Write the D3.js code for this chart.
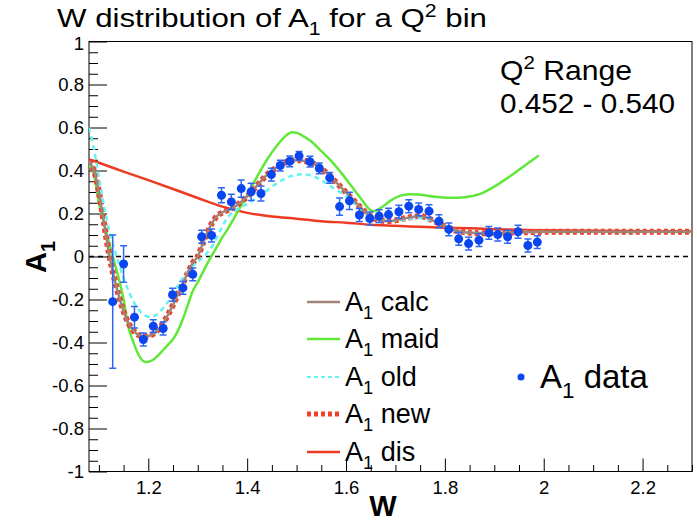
<!DOCTYPE html>
<html><head><meta charset="utf-8">
<script src="https://cdn.jsdelivr.net/npm/d3@7"></script>
<style>body{margin:0;background:#fff}svg{display:block}text{font-family:"Liberation Sans",Arial,sans-serif}</style>
</head><body><svg id="c" width="697" height="522"></svg>
<script>
// ---------- data ----------
const xTickValues = [1.2, 1.4, 1.6, 1.8, 2.0, 2.2];
const xTickLabels = ["1.2", "1.4", "1.6", "1.8", "2", "2.2"];
const yTickValues = [-1, -0.8, -0.6, -0.4, -0.2, 0, 0.2, 0.4, 0.6, 0.8, 1];
const yTickLabels = ["-1", "-0.8", "-0.6", "-0.4", "-0.2", "0", "0.2", "0.4", "0.6", "0.8", "1"];

const dataW = [1.128,1.150,1.172,1.190,1.210,1.230,1.249,1.270,1.290,1.308,1.328,1.348,1.368,1.388,1.408,1.428,1.449,1.467,1.486,1.505,1.527,1.546,1.567,1.587,1.607,1.627,1.648,1.667,1.686,1.707,1.727,1.747,1.768,1.788,1.808,1.828,1.848,1.869,1.889,1.907,1.927,1.948,1.968,1.987];
const dataA = [-0.210,-0.035,-0.282,-0.386,-0.324,-0.335,-0.178,-0.146,-0.083,0.092,0.098,0.285,0.254,0.316,0.301,0.293,0.381,0.423,0.443,0.468,0.441,0.410,0.366,0.232,0.259,0.193,0.177,0.188,0.195,0.208,0.234,0.219,0.211,0.164,0.126,0.082,0.060,0.076,0.110,0.102,0.092,0.115,0.051,0.067];
const dataErr = [0.31,0.085,0.05,0.03,0.03,0.03,0.03,0.03,0.03,0.03,0.03,0.035,0.035,0.04,0.04,0.035,0.03,0.025,0.025,0.02,0.025,0.025,0.025,0.04,0.04,0.03,0.03,0.03,0.03,0.03,0.03,0.03,0.03,0.03,0.03,0.03,0.03,0.03,0.03,0.03,0.03,0.03,0.03,0.03];

const calcW = [1.08,1.09,1.10,1.11,1.12,1.13,1.14,1.15,1.16,1.17,1.18,1.19,1.20,1.21,1.22,1.23,1.24,1.25,1.26,1.27,1.28,1.29,1.30,1.31,1.32,1.33,1.34,1.35,1.36,1.37,1.38,1.40,1.42,1.44,1.46,1.48,1.50,1.52,1.54,1.56,1.58,1.60,1.62,1.64,1.66,1.68,1.70,1.72,1.74,1.75,1.76,1.78,1.80,1.82,1.84,1.86,1.90,1.95,2.00,2.10,2.20,2.30];
const calcA = [0.445,0.40,0.30,0.16,0.02,-0.09,-0.18,-0.255,-0.31,-0.345,-0.365,-0.372,-0.37,-0.36,-0.34,-0.31,-0.27,-0.225,-0.175,-0.125,-0.075,-0.03,0.0,0.06,0.115,0.16,0.19,0.205,0.215,0.225,0.24,0.28,0.33,0.38,0.415,0.44,0.448,0.443,0.425,0.39,0.345,0.298,0.25,0.205,0.175,0.165,0.168,0.178,0.186,0.188,0.183,0.163,0.14,0.122,0.113,0.109,0.108,0.112,0.115,0.115,0.115,0.115];

const newW = calcW.slice();
const newA = [0.445,0.40,0.30,0.16,0.02,-0.09,-0.18,-0.255,-0.31,-0.345,-0.365,-0.372,-0.37,-0.36,-0.34,-0.31,-0.27,-0.225,-0.175,-0.125,-0.075,-0.03,0.0,0.06,0.115,0.16,0.19,0.205,0.215,0.225,0.24,0.28,0.33,0.38,0.415,0.44,0.448,0.443,0.425,0.39,0.345,0.298,0.25,0.205,0.175,0.165,0.168,0.178,0.186,0.188,0.183,0.163,0.14,0.122,0.113,0.109,0.108,0.112,0.115,0.115,0.115,0.115];

const oldW = [1.08,1.09,1.10,1.11,1.12,1.13,1.14,1.15,1.16,1.17,1.18,1.19,1.20,1.21,1.22,1.23,1.24,1.25,1.26,1.27,1.28,1.29,1.30,1.31,1.32,1.33,1.34,1.35,1.36,1.37,1.38,1.40,1.43,1.46,1.49,1.51,1.53,1.55,1.57,1.60,1.62,1.64,1.66,1.68,1.70,1.72,1.74,1.76,1.78,1.80,1.82,1.84,1.86,1.90,1.95,2.00];
const oldA = [0.60,0.50,0.37,0.24,0.13,0.045,-0.03,-0.10,-0.16,-0.21,-0.245,-0.27,-0.28,-0.278,-0.265,-0.24,-0.21,-0.175,-0.135,-0.10,-0.07,-0.045,-0.025,-0.005,0.02,0.05,0.095,0.14,0.18,0.205,0.22,0.245,0.29,0.34,0.375,0.382,0.376,0.355,0.325,0.28,0.24,0.20,0.175,0.165,0.166,0.172,0.178,0.176,0.16,0.14,0.123,0.113,0.11,0.11,0.113,0.115];

const maidW = [1.08,1.09,1.10,1.11,1.12,1.13,1.14,1.15,1.16,1.17,1.18,1.19,1.20,1.21,1.22,1.23,1.24,1.25,1.26,1.27,1.28,1.29,1.30,1.31,1.32,1.33,1.34,1.35,1.36,1.37,1.38,1.39,1.40,1.42,1.44,1.46,1.48,1.49,1.50,1.51,1.53,1.55,1.57,1.59,1.61,1.63,1.645,1.655,1.67,1.69,1.71,1.73,1.75,1.78,1.81,1.84,1.87,1.90,1.93,1.96,1.99];
const maidA = [0.43,0.38,0.25,0.16,0.07,-0.015,-0.10,-0.20,-0.33,-0.40,-0.455,-0.487,-0.49,-0.48,-0.46,-0.435,-0.41,-0.385,-0.345,-0.29,-0.225,-0.16,-0.12,-0.075,-0.03,0.01,0.05,0.09,0.125,0.165,0.205,0.245,0.285,0.37,0.45,0.515,0.565,0.578,0.575,0.565,0.535,0.49,0.445,0.39,0.33,0.27,0.225,0.21,0.225,0.26,0.283,0.29,0.287,0.278,0.273,0.276,0.29,0.325,0.37,0.42,0.47];

const disW = [1.08,1.10,1.15,1.20,1.25,1.30,1.35,1.40,1.45,1.50,1.55,1.60,1.65,1.70,1.75,1.80,1.85,1.90,2.00,2.10,2.20,2.30];
const disA = [0.452,0.436,0.395,0.355,0.314,0.272,0.232,0.203,0.186,0.176,0.164,0.157,0.148,0.143,0.138,0.134,0.131,0.127,0.122,0.12,0.118,0.116];

// ---------- chart ----------
const svg = d3.select("#c");
const L = 89, R = 692, T = 41.5, B = 471.5;
const x = d3.scaleLinear().domain([1.08, 2.3]).range([L, R]);
const y = d3.scaleLinear().domain([-1, 1]).range([B, T]);

const colCalc = "#a08478", colMaid = "#5fe83a", colOld = "#66f2f2", colNew = "#f0402a", colDis = "#ee3a22", colData = "#0a46f0";

// axes
const xMinor = d3.range(1.10, 2.3001, 0.05).filter(v => !xTickValues.some(t => Math.abs(t - v) < 1e-6));
const yMinor = d3.range(-1, 1.0001, 0.05).filter(v => !yTickValues.some(t => Math.abs(t - v) < 1e-6));

svg.append("g").attr("transform", `translate(0,${B})`)
  .call(d3.axisBottom(x).tickValues(xTickValues).tickFormat((d, i) => xTickLabels[i]).tickSize(-13).tickPadding(9));
svg.append("g").attr("transform", `translate(0,${B})`)
  .call(d3.axisBottom(x).tickValues(xMinor).tickFormat("").tickSize(-6.5));
const gy = svg.append("g").attr("transform", `translate(${L},0)`)
  .call(d3.axisLeft(y).tickValues(yTickValues).tickFormat((d, i) => yTickLabels[i]).tickSize(-18).tickPadding(5));
svg.append("g").attr("transform", `translate(${L},0)`)
  .call(d3.axisLeft(y).tickValues(yMinor).tickFormat("").tickSize(-9));
svg.selectAll(".domain").remove();
svg.selectAll(".tick line").attr("stroke", "#000").attr("stroke-width", 1);
svg.selectAll(".tick text").attr("font-size", 18.5).attr("fill", "#000").attr("font-family", "Liberation Sans, Arial, sans-serif");
// top label sits just under the title: nudge it down slightly
gy.selectAll(".tick text").filter(d => d === 1).attr("dy", "0.45em");

// frame
svg.append("rect").attr("x", L).attr("y", T).attr("width", R - L).attr("height", B - T)
  .attr("fill", "none").attr("stroke", "#000").attr("stroke-width", 1);

// zero line
svg.append("line").attr("x1", L).attr("x2", R).attr("y1", y(0)).attr("y2", y(0))
  .attr("stroke", "#000").attr("stroke-width", 1.5).attr("stroke-dasharray", "5,4");

svg.append("clipPath").attr("id", "clip").append("rect").attr("x", L).attr("y", T).attr("width", R - L).attr("height", B - T);
const plot = svg.append("g").attr("clip-path", "url(#clip)");

const line = d3.line().x(d => x(d[0])).y(d => y(d[1])).curve(d3.curveCatmullRom);
const zip = (a, b) => a.map((v, i) => [v, b[i]]);

plot.append("path").datum(zip(disW, disA)).attr("d", line).attr("fill", "none").attr("stroke", colDis).attr("stroke-width", 2.5);
plot.append("path").datum(zip(maidW, maidA)).attr("d", line).attr("fill", "none").attr("stroke", colMaid).attr("stroke-width", 2.5);
plot.append("path").datum(zip(newW, newA)).attr("d", line).attr("fill", "none").attr("stroke", colNew).attr("stroke-width", 6).attr("stroke-dasharray", "4,3");
plot.append("path").datum(zip(oldW, oldA)).attr("d", line).attr("fill", "none").attr("stroke", colOld).attr("stroke-width", 2.5).attr("stroke-dasharray", "5,4");
plot.append("path").datum(zip(calcW, calcA)).attr("d", line).attr("fill", "none").attr("stroke", colCalc).attr("stroke-width", 2.5);

// data points
const pts = dataW.map((w, i) => ({w, a: dataA[i], e: dataErr[i]}));
const pg = plot.append("g");
pg.selectAll("line.eb").data(pts).join("line").attr("class", "eb")
  .attr("x1", d => x(d.w)).attr("x2", d => x(d.w)).attr("y1", d => y(d.a - d.e)).attr("y2", d => y(d.a + d.e))
  .attr("stroke", "#2f66f2").attr("stroke-width", 1.5);
pg.selectAll("line.cap1").data(pts).join("line").attr("class", "cap1")
  .attr("x1", d => x(d.w) - 3.5).attr("x2", d => x(d.w) + 3.5).attr("y1", d => y(d.a + d.e)).attr("y2", d => y(d.a + d.e))
  .attr("stroke", "#2f66f2").attr("stroke-width", 1.5);
pg.selectAll("line.cap2").data(pts).join("line").attr("class", "cap2")
  .attr("x1", d => x(d.w) - 3.5).attr("x2", d => x(d.w) + 3.5).attr("y1", d => y(d.a - d.e)).attr("y2", d => y(d.a - d.e))
  .attr("stroke", "#2f66f2").attr("stroke-width", 1.5);
pg.selectAll("circle").data(pts).join("circle")
  .attr("cx", d => x(d.w)).attr("cy", d => y(d.a)).attr("r", 4.5).attr("fill", colData);

// text helper: main + sub/sup parts
function richText(g, xPos, yPos, parts, size, opts = {}) {
  const t = g.append("text").attr("x", xPos).attr("y", yPos).attr("font-size", size).attr("fill", "#000");
  if (opts.weight) t.attr("font-weight", opts.weight);
  if (opts.anchor) t.attr("text-anchor", opts.anchor);
  parts.forEach(p => {
    const s = t.append("tspan").text(p.t);
    if (p.sub) s.attr("font-size", size * 0.68).attr("dy", size * 0.3);
    if (p.sup) s.attr("font-size", size * 0.68).attr("dy", -size * 0.38);
    if (p.back) s.attr("dy", p.back * size);
  });
  return t;
}

// title
richText(svg, 57, 27, [{t: "W distribution of A"}, {t: "1", sub: true}, {t: " for a Q", back: -0.3}, {t: "2", sup: true}, {t: " bin", back: 0.38}], 26)
  .attr("textLength", 430).attr("lengthAdjust", "spacingAndGlyphs");

// Q2 range
richText(svg, 500, 80, [{t: "Q"}, {t: "2", sup: true}, {t: " Range", back: 0.38}], 28)
  .attr("textLength", 132).attr("lengthAdjust", "spacingAndGlyphs");
svg.append("text").attr("x", 500).attr("y", 113).attr("font-size", 28).text("0.452 - 0.540")
  .attr("textLength", 175).attr("lengthAdjust", "spacingAndGlyphs");

// axis titles
svg.append("text").attr("x", 383).attr("y", 516).attr("text-anchor", "middle").attr("font-size", 29).attr("font-weight", "bold").text("W");
richText(svg, 0, 0, [{t: "A"}, {t: "1", sub: true}], 29, {weight: "bold", anchor: "middle"})
  .attr("transform", "translate(46,257) rotate(-90)");

// legend
const legItems = [
  {label: "calc", color: colCalc, w: 2.5, dash: null},
  {label: "maid", color: colMaid, w: 2.5, dash: null},
  {label: "old", color: colOld, w: 2, dash: "4,3"},
  {label: "new", color: colNew, w: 5, dash: "4,3"},
  {label: "dis", color: colDis, w: 2.5, dash: null}
];
const legY = [302, 339, 377, 414, 452];
legItems.forEach((it, i) => {
  const ly = legY[i];
  const ln = svg.append("line").attr("x1", 307).attr("x2", 340).attr("y1", ly).attr("y2", ly)
    .attr("stroke", it.color).attr("stroke-width", it.w);
  if (it.dash) ln.attr("stroke-dasharray", it.dash);
  richText(svg, 345, ly + 9, [{t: "A"}, {t: "1", sub: true}, {t: " " + it.label, back: -0.3}], 27);
});
svg.append("circle").attr("cx", 521).attr("cy", 377).attr("r", 3.5).attr("fill", colData);
richText(svg, 540, 388, [{t: "A"}, {t: "1", sub: true}, {t: " data", back: -0.3}], 33);
</script></body></html>
